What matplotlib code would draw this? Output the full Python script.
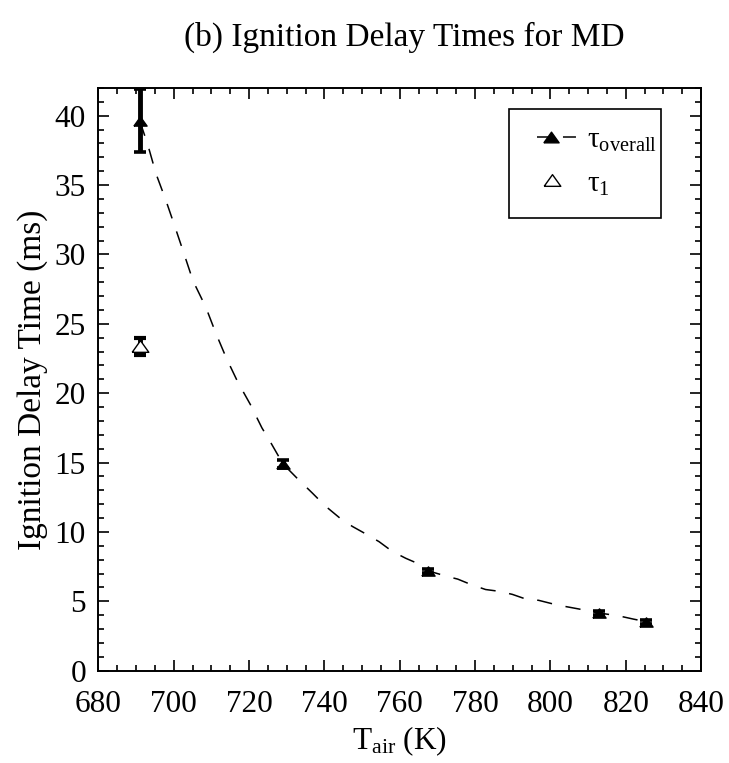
"""Ignition delay times for MD versus air temperature."""
import matplotlib

matplotlib.use("Agg")
import matplotlib.pyplot as plt  # noqa: E402
from matplotlib.patches import Rectangle  # noqa: E402
from matplotlib.ticker import MultipleLocator  # noqa: E402

plt.rcParams["font.family"] = ["Liberation Serif", "DejaVu Serif"]
plt.rcParams["mathtext.fontset"] = "custom"
plt.rcParams["mathtext.rm"] = "Liberation Serif"
plt.rcParams["mathtext.it"] = "Liberation Serif:italic"

# measured points (overall ignition delay)
T_air = [691, 729, 767.5, 812.8, 825.5]
tau_overall = [39.6, 14.9, 7.17, 4.16, 3.53]
err_low = [2.2, 0.3, 0.15, 0.15, 0.15]
err_high = [2.3, 0.3, 0.15, 0.15, 0.15]

# first-stage delay
T_tau1 = [691]
tau_1 = [23.4]
tau1_low = [0.65]
tau1_high = [0.6]

# dashed fit curve
fit_T = [691, 693.1, 695.3, 697.9, 700.3, 702.9, 705.1, 708.5, 711.2, 714,
         717, 720.3, 723.4, 725.4, 729, 733, 736.8, 740.1, 744.1, 747.4,
         750.7, 754.5, 758, 761.6, 765, 767.5, 772.5, 775.4, 779, 782.8,
         786.4, 789.9, 793.4, 796.9, 800.4, 803.7, 807.5, 812.8, 818, 822,
         825.5]
fit_tau = [39.6, 37.9, 35.8, 33.9, 32.0, 29.9, 28.1, 26.2, 24.3, 22.5,
           20.8, 19.2, 17.5, 16.6, 14.9, 13.8, 12.8, 11.9, 11.0, 10.4,
           9.9, 9.3, 8.6, 8.1, 7.7, 7.2, 6.8, 6.6, 6.2, 5.85,
           5.72, 5.5, 5.17, 5.07, 4.83, 4.64, 4.45, 4.16, 3.96, 3.72,
           3.53]

TRI = [(-1, -0.7), (1, -0.7), (0, 0.7), (-1, -0.7)]
DASH = (0, (10, 9))

fig = plt.figure(figsize=(7.29, 7.63), dpi=100)
ax = fig.add_axes([0.1351, 0.121, 0.8265, 0.7637])

ax.plot(fit_T, fit_tau, color="black", lw=1.1, ls=DASH, zorder=2)
ax.errorbar(T_air, tau_overall, yerr=[err_low, err_high], fmt="none",
            ecolor="black", elinewidth=3.5, capsize=4, capthick=2.6, zorder=3)
ax.plot(T_air, tau_overall, ls="none", marker=TRI, ms=9.5, color="black", zorder=4)
ax.errorbar(T_tau1, tau_1, yerr=[tau1_low, tau1_high], fmt="none",
            ecolor="black", elinewidth=3.5, capsize=4, capthick=3, zorder=3)
ax.plot(T_tau1, tau_1, ls="none", marker=TRI, ms=12, mfc="white", mec="black",
        mew=1.0, zorder=5)

ax.set_xlim(680, 840)
ax.set_ylim(0, 42)
ax.xaxis.set_major_locator(MultipleLocator(20))
ax.xaxis.set_minor_locator(MultipleLocator(5))
ax.yaxis.set_major_locator(MultipleLocator(5))
ax.yaxis.set_minor_locator(MultipleLocator(1))
ax.tick_params(which="both", direction="in", top=True, right=True, width=1.2)
ax.tick_params(which="major", length=8)
ax.tick_params(which="minor", length=4.5)
ax.tick_params(axis="x", labelsize=22.5, pad=14)
ax.tick_params(axis="y", labelsize=22.5, pad=9)
for s in ax.spines.values():
    s.set_linewidth(1.4)

ax.set_xlabel(r"T$_{\mathrm{air}}$ (K)", fontsize=22.5, labelpad=4)
ax.set_ylabel("Ignition Delay Time (ms)", fontsize=24, labelpad=5)
fig.text(0.555, 0.951, "(b) Ignition Delay Times for MD", fontsize=24,
         ha="center", va="center")

# legend, drawn by hand
ax.add_patch(Rectangle((0.682, 0.776), 0.251, 0.188, transform=ax.transAxes,
                       fill=False, lw=1.2, ec="black", zorder=6))
ax.plot([0.728, 0.794], [0.9164, 0.9164], transform=ax.transAxes, color="black",
        lw=1.1, ls=(0, (8.5, 8.5)), zorder=6)
ax.plot([0.751], [0.9164], transform=ax.transAxes, ls="none", marker=TRI,
        ms=11, color="black", zorder=7)
ax.plot([0.752], [0.842], transform=ax.transAxes, ls="none", marker=TRI,
        ms=12, mfc="white", mec="black", mew=1.0, zorder=7)
ax.text(0.810, 0.8965, r"τ$_{\mathrm{overall}}$", transform=ax.transAxes,
        fontsize=21, va="baseline", ha="left")
ax.text(0.810, 0.821, r"τ$_{\mathrm{1}}$", transform=ax.transAxes,
        fontsize=21, va="baseline", ha="left")

fig.savefig("out.png", dpi=100)
plt.close(fig)
